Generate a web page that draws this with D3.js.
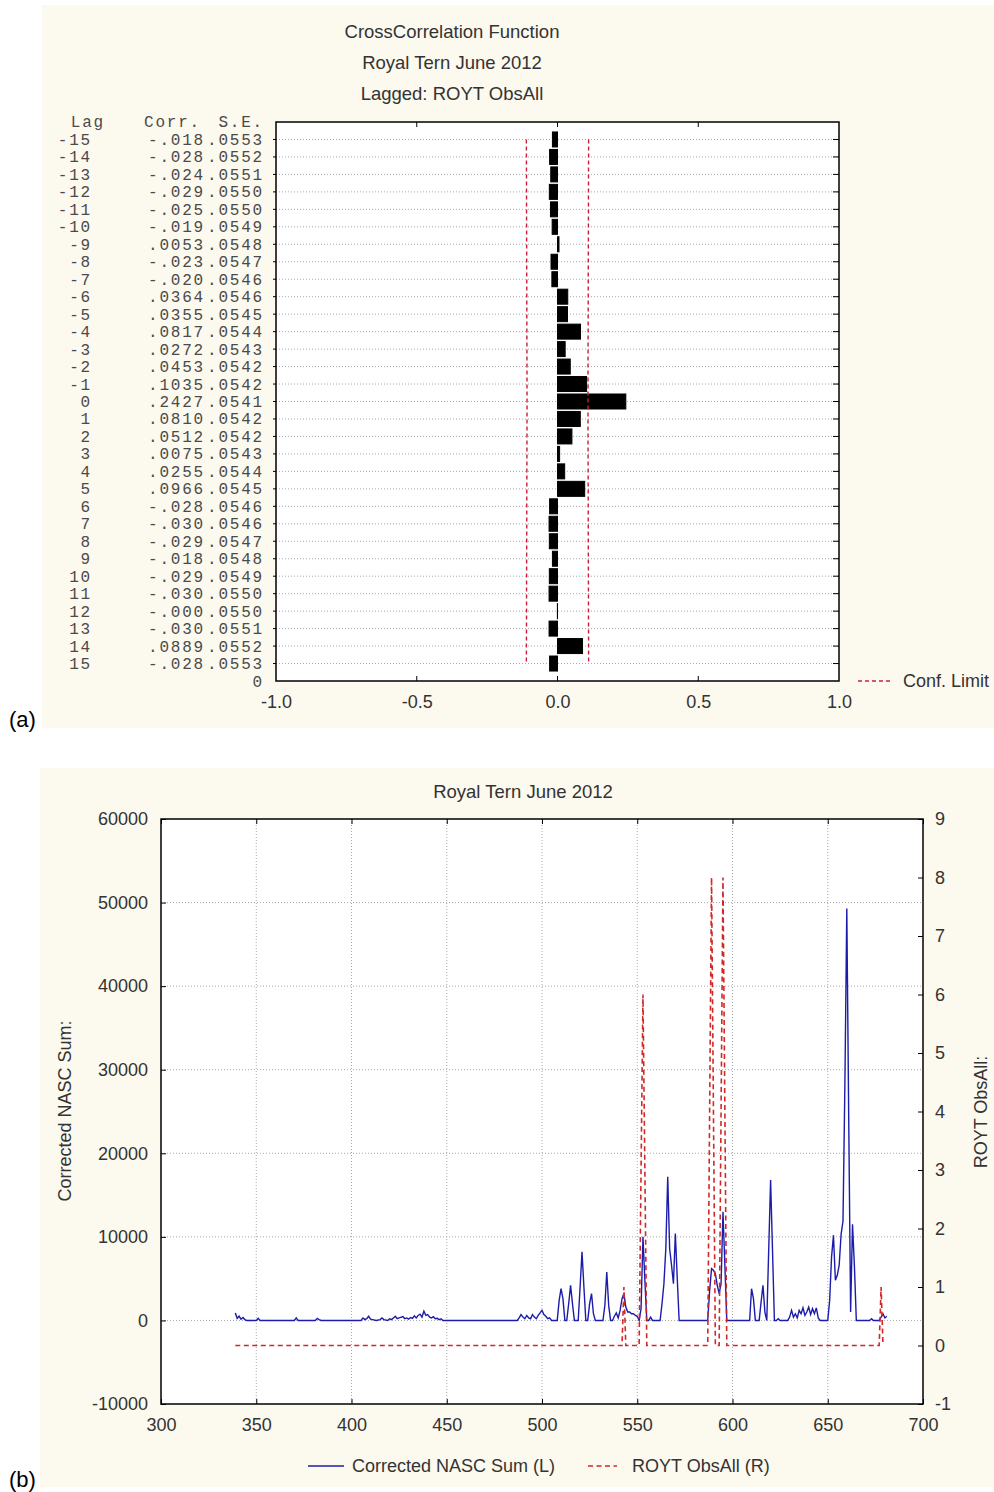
<!DOCTYPE html>
<html>
<head>
<meta charset="utf-8">
<script src="https://cdn.jsdelivr.net/npm/d3@7"></script>
<style>
  body { margin: 0; background: #ffffff; }
  svg { display: block; }
</style>
</head>
<body>
<svg id="chart" width="994" height="1492" font-family="'Liberation Sans', Arial, sans-serif"></svg>
<script>
// ---------- (a) cross-correlation data ----------
const lags = [-15,-14,-13,-12,-11,-10,-9,-8,-7,-6,-5,-4,-3,-2,-1,0,1,2,3,4,5,6,7,8,9,10,11,12,13,14,15];
const corr = [-0.018,-0.028,-0.024,-0.029,-0.025,-0.019,0.0053,-0.023,-0.020,0.0364,0.0355,0.0817,0.0272,0.0453,0.1035,
              0.2427,0.0810,0.0512,0.0075,0.0255,0.0966,-0.028,-0.030,-0.029,-0.018,-0.029,-0.030,-0.0004,-0.030,0.0889,-0.028];
const stdErr = [0.0553,0.0552,0.0551,0.0550,0.0550,0.0549,0.0548,0.0547,0.0546,0.0546,0.0545,0.0544,0.0543,0.0542,0.0542,
                0.0541,0.0542,0.0542,0.0543,0.0544,0.0545,0.0546,0.0546,0.0547,0.0548,0.0549,0.0550,0.0550,0.0551,0.0552,0.0553];
const corrTicks = [-1.0, -0.5, 0.0, 0.5, 1.0];
const titleA = ["CrossCorrelation Function", "Royal Tern June 2012", "Lagged: ROYT ObsAll"];

// ---------- (b) time series data: [distance, value] ----------
const nascSum = [
  [339,900],[340,250],[341,500],[342,150],[343,350],[344,100],[345,0],[350,0],[351,250],[352,0],
  [370,0],[371,300],[372,0],[381,0],[382,250],[383,100],[384,0],
  [405,0],[406,300],[407,100],[408,200],[409,500],[410,150],[411,100],[413,0],[415,100],[416,300],[417,100],[419,0],
  [420,200],[421,100],[422,300],[423,500],[424,200],[425,300],[427,450],[428,200],[429,300],[430,150],[431,350],
  [432,250],[433,550],[434,300],[435,600],[436,750],[437,400],[438,1100],[439,600],[440,700],[441,400],[442,300],
  [443,450],[444,200],[445,250],[446,100],[447,200],[448,0],
  [487,0],[488,300],[489,700],[490,400],[491,200],[492,600],[493,300],[494,200],[495,700],[496,400],[497,200],
  [498,600],[499,900],[500,1200],[501,700],[502,500],[503,200],[504,300],[505,0],
  [508,0],[509,2400],[510,3800],[511,2600],[512,0],[513,0],[514,2000],[515,4200],[516,2000],[517,0],
  [519,0],[520,4000],[521,8200],[522,4000],[523,0],[524,0],[525,2000],[526,3200],[527,800],[528,0],
  [532,0],[533,1800],[534,5800],[535,1800],[536,0],[537,0],[538,500],[539,900],[540,300],[541,1200],
  [542,2600],[543,3200],[544,1600],[545,1000],[546,1000],[547,800],[548,800],[549,600],[550,500],[551,0],
  [552,1400],[553,10000],[554,4800],[555,0],[556,0],[557,400],[558,0],
  [562,0],[563,2000],[564,4400],[565,8600],[566,17200],[567,8600],[568,6600],[569,4400],[570,10400],[571,5000],[572,0],
  [587,0],[588,3600],[589,6200],[590,6000],[591,5600],[592,4200],[593,3200],[594,4400],[595,13000],[596,6600],[597,0],
  [609,0],[610,3800],[611,2600],[612,0],[614,0],[615,2200],[616,4200],[617,1000],[618,0],
  [619,8400],[620,16800],[621,8400],[622,0],[623,0],[624,200],[625,0],
  [629,0],[630,400],[631,1200],[632,400],[633,800],[634,300],[635,1200],[636,800],[637,1500],[638,600],
  [639,1000],[640,1600],[641,700],[642,1400],[643,800],[644,1500],[645,300],[646,0],
  [650,0],[651,2400],[652,7600],[653,10200],[654,4800],[655,5400],[656,6600],[657,10300],[658,11900],
  [659,28300],[660,49300],[661,24300],[662,1000],[663,11500],[664,6500],[665,0],
  [672,0],[673,200],[674,0],[677,0],[678,400],[679,800],[680,300],[681,500]
];
const roytObs = [
  [339,0],[542,0],[543,1],[544,0],[551,0],[552,3],[553,6],[554,3],[555,0],
  [587,0],[588,4],[589,8],[590,4],[591,0],[593,0],[594,4],[595,8],[596,4],[597,0],
  [677,0],[678,1],[679,0]
];
const distTicks = [300,350,400,450,500,550,600,650,700];
const nascTicks = [-10000,0,10000,20000,30000,40000,50000,60000];
const obsTicks = [-1,0,1,2,3,4,5,6,7,8,9];
const titleB = "Royal Tern June 2012";

// ---------- shared styling ----------
const cream = "#fcf9ee";
const ink = "#333333";
const gridCol = "#a8a8a8";
const confRed = "#c8203c";
const obsRed = "#d02828";
const nascBlue = "#1c1caa";
const sans = "'Liberation Sans', Arial, sans-serif";
const mono = "'Liberation Mono', 'Courier New', monospace";

const svg = d3.select("#chart");

// ===================== Panel (a) =====================
svg.append("rect").attr("x", 42).attr("y", 5).attr("width", 952).attr("height", 723).attr("fill", cream);

const A = { left: 276, right: 839, top: 122, bottom: 681 };
const xA = d3.scaleLinear().domain([-1, 1]).range([A.left, A.right]);
const yA = d3.scaleLinear().domain([-16, 16]).range([A.top, A.bottom]);

const gA = svg.append("g");
gA.append("rect").attr("x", A.left).attr("y", A.top)
  .attr("width", A.right - A.left).attr("height", A.bottom - A.top).attr("fill", "#ffffff");

// dotted row lines
gA.selectAll("line.row").data(lags).join("line").attr("class", "row")
  .attr("x1", A.left).attr("x2", A.right)
  .attr("y1", d => yA(d)).attr("y2", d => yA(d))
  .attr("stroke", gridCol).attr("stroke-width", 1).attr("stroke-dasharray", "1,2");

// bars
gA.selectAll("rect.bar").data(lags).join("rect").attr("class", "bar")
  .attr("x", (d, i) => xA(Math.min(0, corr[i])))
  .attr("width", (d, i) => Math.abs(xA(corr[i]) - xA(0)))
  .attr("y", d => yA(d) - 7.5).attr("height", 15)
  .attr("fill", "#000").attr("stroke", "#000").attr("stroke-width", 1);

// confidence limits (+/- 2 S.E.)
const confLine = d3.line().x(d => xA(d[0])).y(d => yA(d[1]));
[1, -1].forEach(sign => {
  gA.append("path")
    .attr("d", confLine(lags.map((l, i) => [sign * 2 * stdErr[i], l])))
    .attr("fill", "none").attr("stroke", confRed).attr("stroke-width", 1.4)
    .attr("stroke-dasharray", "4,3");
});

// border
gA.append("rect").attr("x", A.left).attr("y", A.top)
  .attr("width", A.right - A.left).attr("height", A.bottom - A.top)
  .attr("fill", "none").attr("stroke", "#000").attr("stroke-width", 1.5);

// ticks at each lag on the left and right borders
gA.selectAll("line.rtick").data(lags).join("line").attr("class", "rtick")
  .attr("x1", A.right - 6).attr("x2", A.right)
  .attr("y1", d => yA(d)).attr("y2", d => yA(d))
  .attr("stroke", "#000").attr("stroke-width", 1);
gA.selectAll("line.ltick").data(lags).join("line").attr("class", "ltick")
  .attr("x1", A.left - 3).attr("x2", A.left)
  .attr("y1", d => yA(d)).attr("y2", d => yA(d))
  .attr("stroke", "#000").attr("stroke-width", 1);

// x axis
const axA = d3.axisBottom(xA).tickValues(corrTicks).tickFormat(d => d.toFixed(1)).tickSize(0).tickPadding(14);
const gAx = gA.append("g").attr("transform", `translate(0,${A.bottom})`).call(axA);
gAx.select(".domain").remove();
gAx.selectAll("text").attr("font-size", 18).attr("fill", ink).style("font-family", sans);
gA.selectAll("line.xt").data(corrTicks.slice(1, -1)).join("line").attr("class", "xt")
  .attr("x1", d => xA(d)).attr("x2", d => xA(d)).attr("y1", A.top).attr("y2", A.top + 5)
  .attr("stroke", "#000");
gA.selectAll("line.xb").data(corrTicks.slice(1, -1)).join("line").attr("class", "xb")
  .attr("x1", d => xA(d)).attr("x2", d => xA(d)).attr("y1", A.bottom - 5).attr("y2", A.bottom)
  .attr("stroke", "#000");

// titles
titleA.forEach((t, i) => {
  svg.append("text").attr("x", 452).attr("y", 38 + i * 31)
    .attr("text-anchor", "middle").attr("font-size", 18.5).attr("fill", ink).text(t);
});

// lag / correlation / std. error table (monospaced columns)
const fmtCorr = v => (v < 0 ? "-" + Math.abs(v).toFixed(3).slice(1) : v.toFixed(4).slice(1));
const fmtSE = v => v.toFixed(4).slice(1);
const tbl = svg.append("g").style("font-family", mono).attr("font-size", 16)
  .attr("letter-spacing", 1.8).attr("fill", "#4a4a4a");
const cell = (x, y, s) => tbl.append("text").attr("x", x).attr("y", y).attr("text-anchor", "end")
  .style("font-family", mono).text(s);
cell(105, yA(-16) + 5, "Lag");
cell(201, yA(-16) + 5, "Corr.");
cell(264, yA(-16) + 5, "S.E.");
lags.forEach((l, i) => {
  const y = yA(l) + 5.5;
  cell(92, y, String(l));
  cell(205, y, fmtCorr(corr[i]));
  cell(264, y, fmtSE(stdErr[i]));
});
cell(264, yA(16) + 5.5, "0");

// legend
svg.append("line").attr("x1", 858).attr("x2", 893).attr("y1", 681).attr("y2", 681)
  .attr("stroke", confRed).attr("stroke-width", 1.4).attr("stroke-dasharray", "4,3");
svg.append("text").attr("x", 903).attr("y", 687).attr("font-size", 18).attr("fill", ink).text("Conf. Limit");

svg.append("text").attr("x", 9).attr("y", 727).attr("font-size", 22).attr("fill", "#000").text("(a)");

// ===================== Panel (b) =====================
svg.append("rect").attr("x", 40).attr("y", 768).attr("width", 954).attr("height", 719).attr("fill", cream);

const B = { left: 161, right: 923, top: 819, bottom: 1404 };
const xB = d3.scaleLinear().domain([300, 700]).range([B.left, B.right]);
const yL = d3.scaleLinear().domain([-10000, 60000]).range([B.bottom, B.top]);
const yR = d3.scaleLinear().domain([-1, 9]).range([B.bottom, B.top]);

const gB = svg.append("g");
gB.append("rect").attr("x", B.left).attr("y", B.top)
  .attr("width", B.right - B.left).attr("height", B.bottom - B.top).attr("fill", "#ffffff");

// grid
gB.selectAll("line.vg").data(distTicks.slice(1, -1)).join("line").attr("class", "vg")
  .attr("x1", d => xB(d)).attr("x2", d => xB(d)).attr("y1", B.top).attr("y2", B.bottom)
  .attr("stroke", gridCol).attr("stroke-dasharray", "1,2");
gB.selectAll("line.hg").data(nascTicks.slice(1, -1)).join("line").attr("class", "hg")
  .attr("x1", B.left).attr("x2", B.right).attr("y1", d => yL(d)).attr("y2", d => yL(d))
  .attr("stroke", gridCol).attr("stroke-dasharray", "1,2");

// series
const nascLine = d3.line().x(d => xB(d[0])).y(d => yL(d[1]));
const obsLine = d3.line().x(d => xB(d[0])).y(d => yR(d[1]));
gB.append("path").attr("d", nascLine(nascSum))
  .attr("fill", "none").attr("stroke", nascBlue).attr("stroke-width", 1.4);
gB.append("path").attr("d", obsLine(roytObs))
  .attr("fill", "none").attr("stroke", obsRed).attr("stroke-width", 1.6).attr("stroke-dasharray", "5,3.5");

// border
gB.append("rect").attr("x", B.left).attr("y", B.top)
  .attr("width", B.right - B.left).attr("height", B.bottom - B.top)
  .attr("fill", "none").attr("stroke", "#000").attr("stroke-width", 1.5);

// axes (inward ticks)
const styleAxis = g => {
  g.select(".domain").remove();
  g.selectAll(".tick line").attr("stroke", "#000");
  g.selectAll("text").attr("font-size", 18).attr("fill", ink).style("font-family", sans);
};
gB.append("g").attr("transform", `translate(0,${B.bottom})`)
  .call(d3.axisBottom(xB).tickValues(distTicks).tickFormat(d3.format("d")).tickSizeInner(-5).tickSizeOuter(0).tickPadding(14))
  .call(styleAxis);
gB.append("g").attr("transform", `translate(0,${B.top})`)
  .call(d3.axisTop(xB).tickValues(distTicks).tickFormat("").tickSizeInner(-5).tickSizeOuter(0))
  .call(styleAxis);
gB.append("g").attr("transform", `translate(${B.left},0)`)
  .call(d3.axisLeft(yL).tickValues(nascTicks).tickFormat(d => String(d)).tickSizeInner(-5).tickSizeOuter(0).tickPadding(13))
  .call(styleAxis);
gB.append("g").attr("transform", `translate(${B.right},0)`)
  .call(d3.axisRight(yR).tickValues(obsTicks).tickFormat(d => String(d)).tickSizeInner(-5).tickSizeOuter(0).tickPadding(12))
  .call(styleAxis);

// title and axis titles
svg.append("text").attr("x", 523).attr("y", 798).attr("text-anchor", "middle")
  .attr("font-size", 18.5).attr("fill", ink).text(titleB);
svg.append("text").attr("transform", "translate(71,1111) rotate(-90)").attr("text-anchor", "middle")
  .attr("font-size", 18).attr("fill", ink).text("Corrected NASC Sum:");
svg.append("text").attr("transform", "translate(987,1112) rotate(-90)").attr("text-anchor", "middle")
  .attr("font-size", 18).attr("fill", ink).text("ROYT ObsAll:");

// legend
svg.append("line").attr("x1", 308).attr("x2", 344).attr("y1", 1466).attr("y2", 1466)
  .attr("stroke", nascBlue).attr("stroke-width", 1.6);
svg.append("text").attr("x", 352).attr("y", 1472).attr("font-size", 18).attr("fill", ink).text("Corrected NASC Sum (L)");
svg.append("line").attr("x1", 588).attr("x2", 617).attr("y1", 1466).attr("y2", 1466)
  .attr("stroke", obsRed).attr("stroke-width", 1.6).attr("stroke-dasharray", "5,3.5");
svg.append("text").attr("x", 632).attr("y", 1472).attr("font-size", 18).attr("fill", ink).text("ROYT ObsAll (R)");

svg.append("text").attr("x", 9).attr("y", 1487).attr("font-size", 22).attr("fill", "#000").text("(b)");
</script>
</body>
</html>
